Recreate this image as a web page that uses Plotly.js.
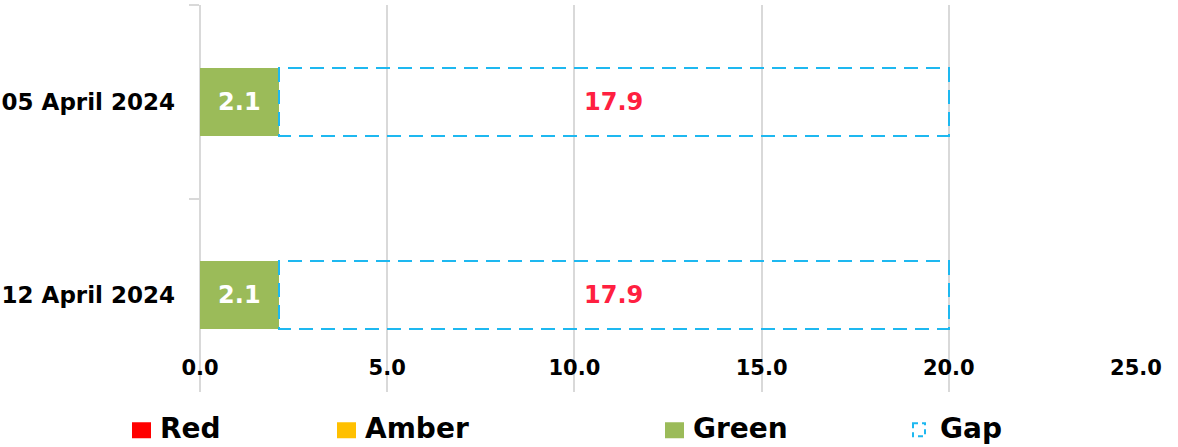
<!DOCTYPE html>
<html>
<head>
<meta charset="utf-8">
<script src="https://cdn.plot.ly/plotly-3.0.1.min.js"></script>
<style>
html,body{margin:0;padding:0;background:#fff;}
#chart{width:1178px;height:447px;}
</style>
</head>
<body>
<div id="chart"></div>
<script>
// Data
const categories = ['05 April 2024', '12 April 2024'];
const redValues = [0, 0];
const amberValues = [0, 0];
const greenValues = [2.1, 2.1];
const gapValues = [17.9, 17.9];
const xTickVals = [0, 5, 10, 15, 20, 25];

const FONT = 'DejaVu Sans';
const labelText = arr => arr.map(v => v > 0 ? v.toFixed(1) : '');

const traces = [
  {name: 'Red', type: 'bar', orientation: 'h', y: categories, x: redValues,
   marker: {color: '#FF0000', line: {width: 0}}, legend: 'legend', hoverinfo: 'skip'},
  {name: 'Amber', type: 'bar', orientation: 'h', y: categories, x: amberValues,
   marker: {color: '#FFC000', line: {width: 0}}, legend: 'legend2', hoverinfo: 'skip'},
  {name: 'Green', type: 'bar', orientation: 'h', y: categories, x: greenValues,
   marker: {color: '#9BBB59', line: {width: 0}}, legend: 'legend3',
   text: labelText(greenValues), textposition: 'inside', insidetextanchor: 'middle',
   textfont: {family: FONT, size: 24, color: '#FFFFFF', weight: 'bold'}, textangle: 0},
  {name: 'Gap', type: 'bar', orientation: 'h', y: categories, x: gapValues,
   marker: {color: 'rgba(255,255,255,0)', line: {color: '#1EB8F0', width: 2.2}}, legend: 'legend4',
   text: labelText(gapValues), textposition: 'inside', insidetextanchor: 'middle',
   textfont: {family: FONT, size: 24, color: '#FF2040', weight: 'bold'}, textangle: 0}
];

const legendBase = {orientation: 'h', yanchor: 'middle', xanchor: 'left', y: -0.092,
  font: {family: FONT, size: 28, color: '#000000', weight: 'bold'}, bgcolor: 'rgba(0,0,0,0)',
  itemclick: false, itemdoubleclick: false};

const layout = {
  width: 1178, height: 447,
  margin: {l: 200, r: 42, t: 5, b: 55, autoexpand: false},
  paper_bgcolor: '#FFFFFF', plot_bgcolor: '#FFFFFF',
  barmode: 'stack', bargap: 0.65,
  showlegend: true,
  font: {family: FONT, color: '#000000'},
  xaxis: {range: [0, 25], tickvals: xTickVals, tickformat: '.1f',
    anchor: 'free', position: 0.1,
    showgrid: true, gridcolor: '#D9D9D9', gridwidth: 2,
    zeroline: true, zerolinecolor: '#D9D9D9', zerolinewidth: 2,
    showline: false, ticks: '', automargin: false,
    tickfont: {family: FONT, size: 21, color: '#000000', weight: 'bold'}, fixedrange: true},
  yaxis: {type: 'category', categoryorder: 'array', categoryarray: categories,
    autorange: 'reversed', tickson: 'boundaries', ticks: 'outside', ticklen: 10,
    tickcolor: '#D9D9D9', tickwidth: 2, showgrid: false, showline: false, zeroline: false,
    ticklabelstandoff: 24, automargin: false,
    tickfont: {family: FONT, size: 23, color: '#000000', weight: 'bold'}, fixedrange: true},
  legend: Object.assign({}, legendBase, {x: (120 - 200) / 936}),
  legend2: Object.assign({}, legendBase, {x: (325 - 200) / 936}),
  legend3: Object.assign({}, legendBase, {x: (653 - 200) / 936}),
  legend4: Object.assign({}, legendBase, {x: (900 - 200) / 936})
};

Plotly.newPlot('chart', traces, layout, {staticPlot: true, displayModeBar: false}).then(gd => {
  const barTraces = gd.querySelectorAll('.barlayer .trace');
  const gapTrace = barTraces[3];
  if (gapTrace) {
    gapTrace.querySelectorAll('path').forEach(p => {
      p.style.strokeDasharray = '14,8';
    });
  }
  const legendPts = gd.querySelectorAll('.legendpoints path');
  legendPts.forEach((p, i) => {
    if (i === 3) {
      p.setAttribute('d', 'M-7,-4H5V9H-7Z');
      p.style.strokeDasharray = '5,4';
      p.style.strokeWidth = '2px';
      p.style.fill = 'none';
    } else {
      p.setAttribute('d', 'M-8,-5H11V11H-8Z');
    }
  });
});
</script>
</body>
</html>
